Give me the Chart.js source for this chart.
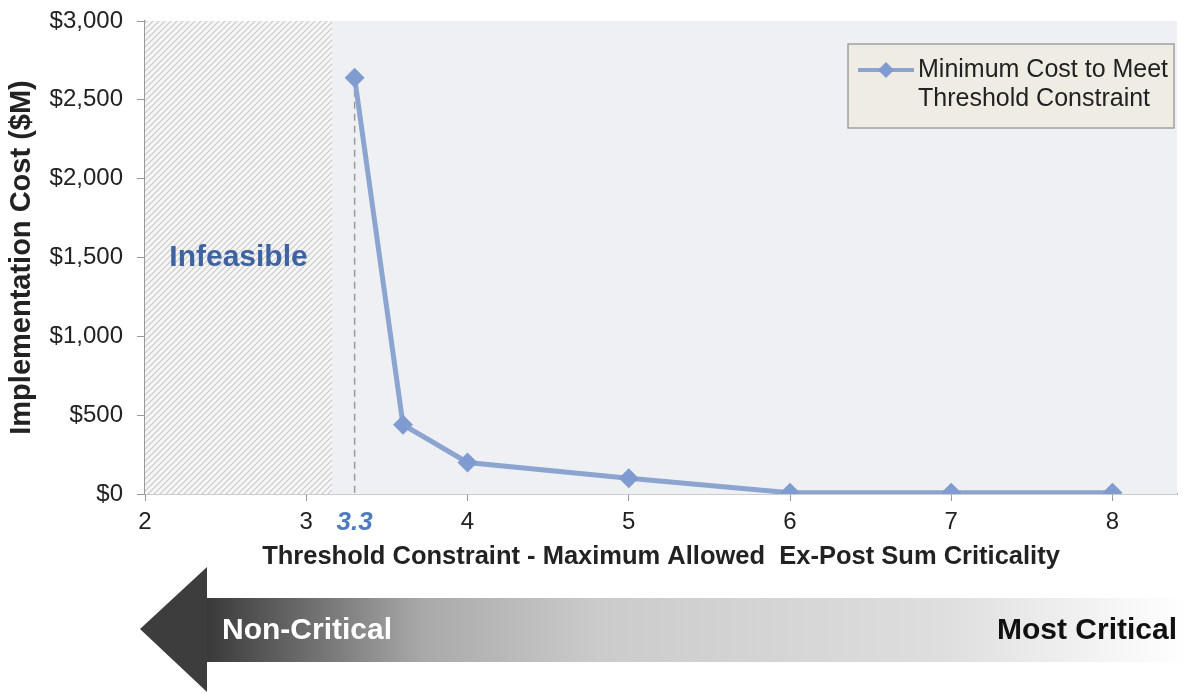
<!DOCTYPE html>
<html>
<head>
<meta charset="utf-8">
<script src="https://cdn.jsdelivr.net/npm/chart.js@4/dist/chart.umd.min.js"></script>
<style>
  html, body { margin: 0; padding: 0; background: #fff; }
  #wrap { width: 1187px; height: 694px; }
</style>
</head>
<body>
<div id="wrap"><canvas id="c" width="1187" height="694"></canvas></div>
<script>
// threshold values (x) and minimum cost in $M (y)
const thresholds = [3.3, 3.6, 4, 5, 6, 7, 8];
const minCost = [2640, 440, 200, 100, 8, 8, 8];
const xTicks = [2, 3, 4, 5, 6, 7, 8];
const yTicks = [0, 500, 1000, 1500, 2000, 2500, 3000];
const infeasibleRange = [2, 3.16];
const feasibleStart = 3.3;
const seriesLabel = ["Minimum Cost to Meet", "Threshold Constraint"];

const lineColor = "#8ba4d0";
const fontFam = "'Liberation Sans', Arial, sans-serif";

function hatchPattern(ctx) {
  const p = document.createElement("canvas");
  p.width = 6; p.height = 6;
  const g = p.getContext("2d");
  g.fillStyle = "#f6f6f6";
  g.fillRect(0, 0, 6, 6);
  g.strokeStyle = "#c8c8c8";
  g.lineWidth = 1.1;
  g.beginPath();
  g.moveTo(-1, 7); g.lineTo(7, -1);
  g.moveTo(-1, 1); g.lineTo(1, -1);
  g.moveTo(5, 7); g.lineTo(7, 5);
  g.stroke();
  return ctx.createPattern(p, "repeat");
}

const decor = {
  id: "decor",
  beforeDatasetsDraw(chart) {
    const { ctx, chartArea: a, scales } = chart;
    ctx.save();
    // plot background
    ctx.fillStyle = "#eef0f3";
    ctx.fillRect(a.left, a.top, a.right - a.left, a.bottom - a.top);
    // infeasible hatched band
    const x0 = scales.x.getPixelForValue(infeasibleRange[0]);
    const x1 = scales.x.getPixelForValue(infeasibleRange[1]);
    ctx.fillStyle = hatchPattern(ctx);
    ctx.fillRect(x0, a.top, x1 - x0, a.bottom - a.top);
    ctx.fillStyle = "#3f62a0";
    ctx.font = "bold 30px " + fontFam;
    ctx.textAlign = "center";
    ctx.textBaseline = "middle";
    ctx.fillText("Infeasible", (x0 + x1) / 2, scales.y.getPixelForValue(1500));
    // dashed line at first feasible threshold
    const xf = scales.x.getPixelForValue(feasibleStart);
    ctx.strokeStyle = "#9a9a9a";
    ctx.lineWidth = 1.5;
    ctx.setLineDash([7, 5]);
    ctx.beginPath();
    ctx.moveTo(xf, scales.y.getPixelForValue(minCost[0]));
    ctx.lineTo(xf, a.bottom);
    ctx.stroke();
    ctx.restore();
  },
  afterDraw(chart) {
    const { ctx, chartArea: a, scales } = chart;
    ctx.save();
    // 3.3 label under the axis
    const xf = scales.x.getPixelForValue(feasibleStart);
    ctx.fillStyle = "#4f7cc0";
    ctx.font = "italic bold 26px " + fontFam;
    ctx.textAlign = "center";
    ctx.textBaseline = "middle";
    ctx.fillText(String(feasibleStart), xf, a.bottom + 29);

    // legend box
    const bx = 848, by = a.top + 23, bw = a.right - 3 - 848, bh = 84;
    ctx.fillStyle = "#efede3";
    ctx.fillRect(bx, by, bw, bh);
    ctx.strokeStyle = "#a0a0a0";
    ctx.lineWidth = 1.5;
    ctx.strokeRect(bx, by, bw, bh);
    const ly = by + 26;
    ctx.strokeStyle = lineColor;
    ctx.lineWidth = 4;
    ctx.beginPath();
    ctx.moveTo(bx + 10, ly);
    ctx.lineTo(bx + 66, ly);
    ctx.stroke();
    ctx.fillStyle = "#7f9bd0";
    ctx.beginPath();
    ctx.moveTo(bx + 38, ly - 8);
    ctx.lineTo(bx + 46, ly);
    ctx.lineTo(bx + 38, ly + 8);
    ctx.lineTo(bx + 30, ly);
    ctx.closePath();
    ctx.fill();
    ctx.fillStyle = "#222";
    ctx.font = "25px " + fontFam;
    ctx.textAlign = "left";
    ctx.fillText(seriesLabel[0], bx + 70, ly);
    ctx.fillText(seriesLabel[1], bx + 70, ly + 29);

    // criticality arrow
    const tipX = 140, headX = 207, midY = 629;
    const grad = ctx.createLinearGradient(headX, 0, 1187, 0);
    grad.addColorStop(0, "#3a3a3a");
    grad.addColorStop(0.1, "#6c6c6c");
    grad.addColorStop(0.22, "#a9a9a9");
    grad.addColorStop(0.4, "#cbcbcb");
    grad.addColorStop(0.75, "#dedede");
    grad.addColorStop(1, "#ffffff");
    ctx.fillStyle = grad;
    ctx.fillRect(headX, 598, 1187 - headX, 64);
    ctx.fillStyle = "#3d3d3d";
    ctx.beginPath();
    ctx.moveTo(tipX, midY);
    ctx.lineTo(headX, 567);
    ctx.lineTo(headX, 692);
    ctx.closePath();
    ctx.fill();
    ctx.font = "bold 30px " + fontFam;
    ctx.fillStyle = "#ffffff";
    ctx.textAlign = "left";
    ctx.fillText("Non-Critical", 222, midY + 2);
    ctx.fillStyle = "#111";
    ctx.textAlign = "right";
    ctx.fillText("Most Critical", 1177, midY + 2);
    ctx.restore();
  }
};

new Chart(document.getElementById("c").getContext("2d"), {
  type: "line",
  data: {
    datasets: [{
      label: seriesLabel.join(" "),
      data: thresholds.map((x, i) => ({ x: x, y: minCost[i] })),
      borderColor: lineColor,
      backgroundColor: "#7f9bd0",
      borderWidth: 5,
      pointStyle: "rectRot",
      pointRadius: 10,
      pointBorderWidth: 0,
      tension: 0
    }]
  },
  options: {
    responsive: false,
    animation: false,
    layout: { padding: { left: 1, top: 21, right: 2, bottom: 118 } },
    plugins: { legend: { display: false }, tooltip: { enabled: false } },
    scales: {
      x: {
        type: "linear",
        min: 2,
        max: 8.4,
        afterBuildTicks: s => { s.ticks = xTicks.map(v => ({ value: v })); },
        afterFit: s => { s.height = 82; },
        ticks: { color: "#222", font: { size: 24, family: fontFam }, padding: 7 },
        grid: { drawOnChartArea: false, tickLength: 7, color: "#999" },
        border: { color: "#999", width: 1.5 },
        title: {
          display: true,
          text: "Threshold Constraint - Maximum Allowed  Ex-Post Sum Criticality",
          color: "#222",
          font: { size: 25.5, weight: "bold", family: fontFam }
        }
      },
      y: {
        min: 0,
        max: 3000,
        afterBuildTicks: s => { s.ticks = yTicks.map(v => ({ value: v })); },
        afterFit: s => { s.width = 144; s.paddingTop = 0; s.paddingBottom = 0; },
        ticks: {
          color: "#222",
          font: { size: 24, family: fontFam },
          padding: 14,
          callback: v => "$" + v.toLocaleString("en-US")
        },
        grid: { drawOnChartArea: false, tickLength: 8, color: "#999" },
        border: { color: "#999", width: 1.5 },
        title: {
          display: true,
          text: "Implementation Cost ($M)",
          color: "#222",
          font: { size: 29, weight: "bold", family: fontFam }
        }
      }
    }
  },
  plugins: [decor]
});
</script>
</body>
</html>
